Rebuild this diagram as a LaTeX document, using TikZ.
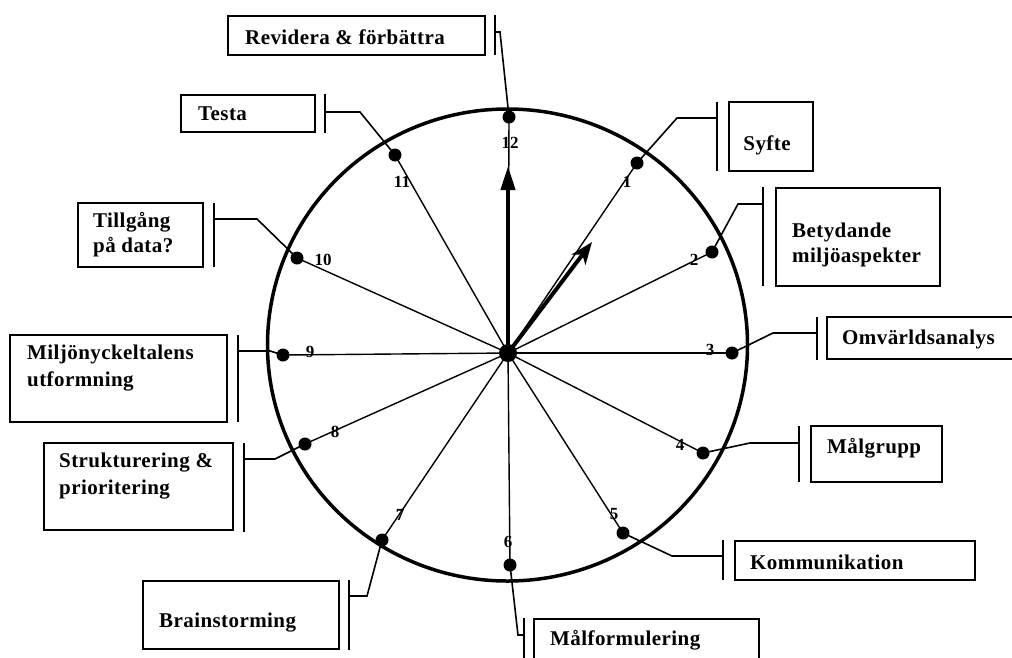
\documentclass[tikz,border=0pt]{standalone}
\usepackage{fontspec}
\setmainfont{Liberation Serif}
\newfontfamily\boxfont[LetterSpace=2]{Liberation Serif}
\usetikzlibrary{arrows.meta}
\begin{document}
\begin{tikzpicture}[x=1pt,y=-1pt,
  box/.style={draw,line width=1.8pt,inner sep=0pt},
  txt/.style={font=\boxfont\bfseries\fontsize{21}{25}\selectfont,anchor=west,align=left,inner sep=0pt},
  txtb/.style={txt,font=\boxfont\bfseries\fontsize{21}{27}\selectfont},
  num/.style={font=\bfseries\fontsize{17}{17}\selectfont,inner sep=0pt},
  dot/.style={circle,fill,inner sep=0pt,minimum size=13pt},
  spoke/.style={line width=1.4pt},
  conn/.style={line width=1.6pt},
  bar/.style={line width=2pt},
  hand/.style={line width=4pt}]
\useasboundingbox (0,0) rectangle (1012,657);
\clip (0,0) rectangle (1012,657);

% clock face
\draw[line width=3.5pt] (507.5,345) ellipse [x radius=240, y radius=236];
\node[circle,fill,inner sep=0pt,minimum size=18pt] (c) at (508,353) {};

% dots
\node[dot] (d12) at (509,117) {};
\node[dot] (d1) at (637,163) {};
\node[dot] (d2) at (712,252) {};
\node[dot] (d3) at (732,353) {};
\node[dot] (d4) at (703,453) {};
\node[dot] (d5) at (623,533) {};
\node[dot] (d6) at (510,565) {};
\node[dot] (d7) at (382,540) {};
\node[dot] (d8) at (305,444) {};
\node[dot] (d9) at (283,355) {};
\node[dot] (d10) at (297,258) {};
\node[dot] (d11) at (395,155) {};

% spokes
\foreach \i in {1,...,12} \draw[spoke] (c.center) -- (d\i.center);

% numbers
\node[num] (n12) at (510,143) {12};
\node[num] (n1) at (627,182) {1};
\node[num] (n2) at (694,260) {2};
\node[num] (n3) at (710,350) {3};
\node[num] (n4) at (680,445) {4};
\node[num] (n5) at (614,514) {5};
\node[num] (n6) at (508,542) {6};
\node[num] (n7) at (400,515) {7};
\node[num] (n8) at (335,432) {8};
\node[num] (n9) at (310,352) {9};
\node[num] (n10) at (323,260) {10};
\node[num] (n11) at (402,182) {11};

% hands
\coordinate (h1) at (508,166);
\coordinate (h2) at (592,242);
\draw[hand,-{Triangle[length=24pt,width=14pt]}] (c.center) -- (h1);
\draw[hand,-{Stealth[length=22pt,width=17pt,inset=6pt]}] (c.center) -- (h2);

% boxes
\node[box,minimum width=257pt,minimum height=39pt] (b12) at (356.5,35.5) {};
\node[box,minimum width=134pt,minimum height=37pt] (b11) at (248,113.5) {};
\node[box,minimum width=125pt,minimum height=64pt] (b10) at (140.5,235) {};
\node[box,minimum width=217pt,minimum height=87pt] (b9) at (118.5,378.5) {};
\node[box,minimum width=189pt,minimum height=87pt] (b8) at (138.5,486.5) {};
\node[box,minimum width=196pt,minimum height=68pt] (b7) at (241,615) {};
\node[box,minimum width=225pt,minimum height=81pt] (b6) at (646.5,659.5) {};
\node[box,minimum width=240pt,minimum height=39pt] (b5) at (855,560.5) {};
\node[box,minimum width=131pt,minimum height=56pt] (b4) at (876.5,454) {};
\node[box,minimum width=203pt,minimum height=42pt] (b3) at (928.5,338) {};
\node[box,minimum width=164pt,minimum height=98pt] (b2) at (858,237) {};
\node[box,minimum width=84pt,minimum height=69pt] (b1) at (771,136.5) {};

% texts
\node[txt] (t12) at (245,37) {Revidera \& förbättra};
\node[txt] (t11) at (198,114) {Testa};
\node[txt] (t10) at (93,235) {Tillgång\\på data?};
\node[txtb] (t9) at (27,368.5) {Miljönyckeltalens\\utformning};
\node[txtb] (t8) at (59,476.5) {Strukturering \&\\prioritering};
\node[txt] (t7) at (159,623) {Brainstorming};
\node[txt] (t6) at (550,640) {Målformulering};
\node[txt] (t5) at (750,562) {Kommunikation};
\node[txt] (t4) at (827,448) {Målgrupp};
\node[txt] (t3) at (842,339) {Omvärldsanalys};
\node[txt] (t2) at (792,245) {Betydande\\miljöaspekter};
\node[txt,anchor=center] (t1) at (767,145) {Syfte};

% bars
\draw[bar] (495,15) -- (495,55);
\draw[bar] (325,94) -- (325,133);
\draw[bar] (214,203) -- (214,267);
\draw[bar] (238,335) -- (238,422);
\draw[bar] (244,443) -- (244,532);
\draw[bar] (349,580) -- (349,650);
\draw[bar] (524,618) -- (524,670);
\draw[bar] (723,540) -- (723,580);
\draw[bar] (799,426) -- (799,482);
\draw[bar] (817,317) -- (817,360);
\draw[bar] (763,187) -- (763,286);
\draw[bar] (717,102) -- (717,171);

% connector end points on the bars
\coordinate (e12) at (495,32);
\coordinate (e11) at (325,112);
\coordinate (e10) at (214,219);
\coordinate (e9) at (238,351);
\coordinate (e8) at (244,459);
\coordinate (e7) at (349,596);
\coordinate (e6) at (524,635);
\coordinate (e5) at (723,556);
\coordinate (e4) at (799,443);
\coordinate (e3) at (817,333);
\coordinate (e2) at (763,204);
\coordinate (e1) at (717,118);

% connectors
\draw[conn] (d12.center) -- (500,32) -- (e12);
\draw[conn] (d11.center) -- (360,112) -- (e11);
\draw[conn] (d10.center) -- (257,219) -- (e10);
\draw[conn] (d9.center) -- (270,351) -- (e9);
\draw[conn] (d8.center) -- (275,459) -- (e8);
\draw[conn] (d7.center) -- (367,596) -- (e7);
\draw[conn] (d6.center) -- (518,635) -- (e6);
\draw[conn] (d5.center) -- (672,556) -- (e5);
\draw[conn] (d4.center) -- (750,443) -- (e4);
\draw[conn] (d3.center) -- (773,333) -- (e3);
\draw[conn] (d2.center) -- (738,204) -- (e2);
\draw[conn] (d1.center) -- (677,118) -- (e1);
\end{tikzpicture}
\end{document}
